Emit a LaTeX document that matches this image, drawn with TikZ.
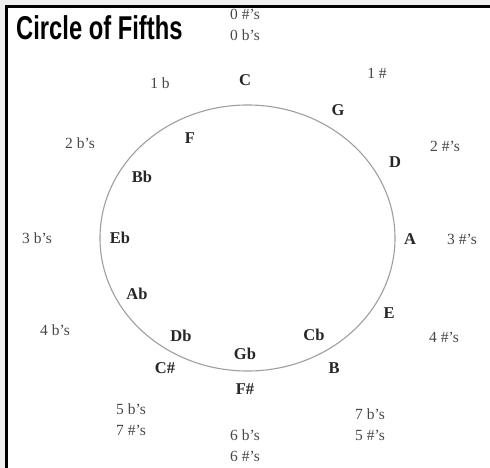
\documentclass[tikz,border=0pt]{standalone}
\usepackage{fontspec}
\setmainfont{Liberation Serif}
\newfontfamily\titlefont[FakeStretch=0.72]{Liberation Sans}
\begin{document}
\begin{tikzpicture}[x=1pt,y=-1pt,
  keysig/.style={font=\fontsize{15.5}{21}\selectfont,text=black!72,align=center,inner sep=0pt},
  note/.style={font=\fontsize{16.5}{16.5}\selectfont\bfseries,text=black!85,inner sep=0pt}]
% Rahmen
\useasboundingbox (0,0) rectangle (490,468);
\fill[gray!12] (0,0) rectangle (490,468);
\fill[white] (6.5,6.5) rectangle (490,468);
\draw[line width=3pt] (490,6.5) -- (6.5,6.5) -- (6.5,468);
% Titel
\node[anchor=west,inner sep=0pt,font=\titlefont\bfseries\fontsize{33}{33}\selectfont] (title) at (16,28) {Circle of Fifths};
% Quintenzirkel
\draw[gray!75,line width=1.1pt] (247.5,238) ellipse (147.5 and 133);
% Tonarten am Kreis
\node[note] (C)  at (245,80)  {C};
\node[note] (G)  at (338,110) {G};
\node[note] (D)  at (395,162) {D};
\node[note] (A)  at (410,239) {A};
\node[note] (E)  at (389,313) {E};
\node[note] (B)  at (334,368) {B};
\node[note] (Cb) at (314,335) {Cb};
\node[note] (Fs) at (245,389) {F\#};
\node[note] (Gb) at (245,354) {Gb};
\node[note] (Cs) at (165,368) {C\#};
\node[note] (Db) at (181,336) {Db};
\node[note] (Ab) at (137,294) {Ab};
\node[note] (Eb) at (120,238) {Eb};
\node[note] (Bb) at (142,177) {Bb};
\node[note] (F)  at (190,138) {F};
% Vorzeichen
\node[keysig] (k0)  at (245,25)  {0 \#'s\\0 b's};
\node[keysig] (s1)  at (377,73)  {1 \#};
\node[keysig] (s2)  at (445,146) {2 \#'s};
\node[keysig] (s3)  at (462,239) {3 \#'s};
\node[keysig] (s4)  at (444,337) {4 \#'s};
\node[keysig] (k5)  at (370,424.5) {7 b's\\5 \#'s};
\node[keysig] (k6)  at (245,446) {6 b's\\6 \#'s};
\node[keysig] (k7)  at (131,420) {5 b's\\7 \#'s};
\node[keysig] (f4)  at (55,330)  {4 b's};
\node[keysig] (f3)  at (37,238)  {3 b's};
\node[keysig] (f2)  at (80,143)  {2 b's};
\node[keysig] (f1)  at (160,83)  {1 b};
\end{tikzpicture}
\end{document}
